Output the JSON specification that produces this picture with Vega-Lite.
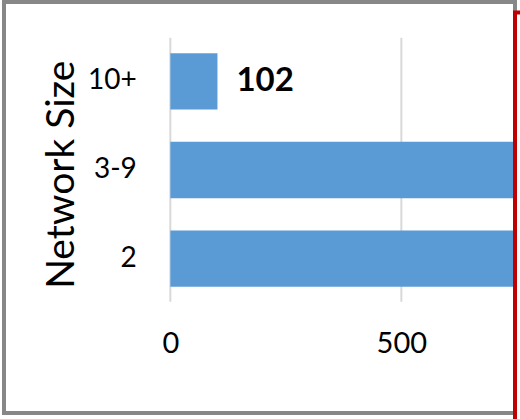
{
  "$schema": "https://vega.github.io/schema/vega-lite/v6.json",
  "width": 511,
  "height": 411,
  "autosize": {"type": "none"},
  "padding": {"left": 4, "top": 2, "right": 5, "bottom": 6},
  "background": "white",
  "config": {"view": {"stroke": "#878787", "strokeWidth": 4}, "font": "Lato"},
  "data": {"values": [
    {"size": "10+", "count": 102},
    {"size": "3-9", "count": 1200},
    {"size": "2", "count": 1500}
  ]},
  "layer": [
    {
      "data": {"values": [{"tick": 0}, {"tick": 500}]},
      "mark": {"type": "rule", "color": "#d9d9d9", "strokeWidth": 2},
      "encoding": {
        "x": {"field": "tick", "type": "quantitative",
          "scale": {"domain": [-360, 746], "nice": false, "zero": false},
          "axis": {"values": [0, 500], "grid": false, "domain": false, "ticks": false, "labelFontSize": 29, "labelColor": "#000000", "labelPadding": 32, "offset": -116, "title": null, "labelFont": "Lato"}},
        "y": {"datum": "10+", "type": "nominal", "bandPosition": -0.274,
          "scale": {"type": "band", "domain": ["10+", "3-9", "2"], "paddingInner": 0.365, "paddingOuter": 1.0655, "align": 0.2885},
          "axis": {"grid": false, "domain": false, "ticks": false, "labelFontSize": 28, "labelColor": "#000000", "labelPadding": 34, "offset": -166.3, "title": "Network Size", "titleFontSize": 39, "titleFontWeight": "normal", "titleColor": "#000000", "titlePadding": 6, "titleY": 172.2, "titleFont": "Lato", "labelFont": "Lato"}},
        "y2": {"datum": "2", "bandPosition": 1.267}
      }
    },
    {
      "mark": {"type": "bar", "color": "#5b9bd5", "clip": true},
      "encoding": {
        "x": {"field": "count", "type": "quantitative",
          "scale": {"domain": [-360, 746], "nice": false, "zero": false},
          "axis": {"values": [0, 500], "grid": false, "domain": false, "ticks": false, "labelFontSize": 29, "labelColor": "#000000", "labelPadding": 32, "offset": -116, "title": null, "labelFont": "Lato"}},
        "x2": {"datum": 0},
        "y": {"field": "size", "type": "nominal",
          "scale": {"type": "band", "domain": ["10+", "3-9", "2"], "paddingInner": 0.365, "paddingOuter": 1.0655, "align": 0.2885},
          "axis": {"grid": false, "domain": false, "ticks": false, "labelFontSize": 28, "labelColor": "#000000", "labelPadding": 34, "offset": -166.3, "title": "Network Size", "titleFontSize": 39, "titleFontWeight": "normal", "titleColor": "#000000", "titlePadding": 6, "titleY": 172.2, "titleFont": "Lato", "labelFont": "Lato"}}
      }
    },
    {
      "transform": [{"filter": "datum.size === '10+'"}],
      "mark": {"type": "text", "align": "left", "baseline": "middle", "dx": 19, "fontSize": 33, "fontWeight": "bold", "font": "Lato", "color": "#000000"},
      "encoding": {
        "x": {"field": "count", "type": "quantitative"},
        "y": {"field": "size", "type": "nominal"},
        "text": {"field": "count", "type": "quantitative"}
      }
    },
    {
      "data": {"values": [{"box": "crop"}]},
      "mark": {"type": "rect", "filled": false, "color": "#c00000", "strokeWidth": 4},
      "encoding": {
        "x": {"datum": 746, "type": "quantitative"},
        "x2": {"datum": 900},
        "y": {"datum": "10+", "type": "nominal", "bandPosition": -0.721},
        "y2": {"datum": "2", "bandPosition": 4}
      }
    }
  ]
}
